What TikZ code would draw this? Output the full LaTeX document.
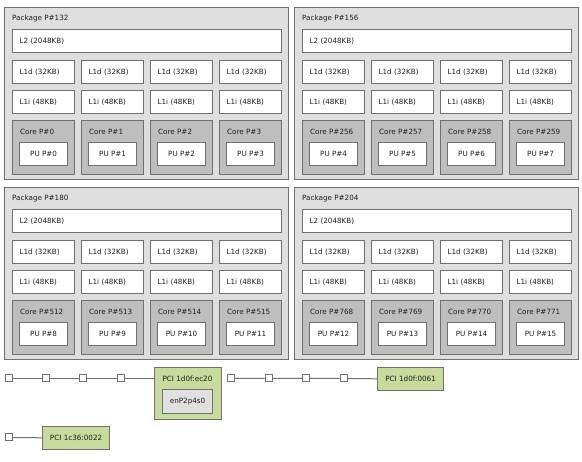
\documentclass[tikz,border=0pt]{standalone}
\usepackage{fontspec}
\setmainfont{DejaVu Sans}
\definecolor{topoedge}{RGB}{112,112,112}
\definecolor{topopkg}{RGB}{222,222,222}
\definecolor{topocore}{RGB}{190,190,190}
\definecolor{topopci}{RGB}{199,219,157}
\definecolor{topoos}{RGB}{224,224,224}
\definecolor{topotext}{RGB}{30,30,30}

\begin{document}
\begin{tikzpicture}[x=1pt, y=-1pt,
    every node/.style={font=\fontsize{7.2}{8}\selectfont, text=topotext},
    box/.style={draw=topoedge, line width=1.2pt, anchor=north west, inner sep=0pt},
    pkgbox/.style={box, fill=topopkg, minimum width=284pt, minimum height=172pt},
    cachebox/.style={box, fill=white, minimum height=23pt, inner xsep=7pt, align=left, text width=#1},
    corebox/.style={box, fill=topocore, minimum width=62pt, minimum height=54pt},
    pubox/.style={box, fill=white, minimum width=48pt, minimum height=23pt},
    pcibox/.style={box, fill=topopci, minimum height=23pt},
    osbox/.style={box, fill=topoos, minimum width=50pt, minimum height=24pt},
    lab/.style={anchor=west, inner sep=0pt},
    bridge/.style={draw=topoedge, line width=1pt, fill=white, minimum size=7pt, inner sep=0pt},
    link/.style={draw=topoedge, line width=1pt}]
        \useasboundingbox (0,0) rectangle (582,462);

        % Packages
        \foreach \px/\py/\pid/\n in {4/7/132/0, 294/7/156/1, 4/187/180/2, 294/187/204/3} {
            \node[pkgbox] (pkg\n) at (\px,\py) {};
            \node[lab] (pkglab\n) at (\px+8,\py+12) {Package P\#\pid};
            \node[cachebox=255pt] (l2\n) at (\px+8,\py+22) {L2 (2048KB)};
            % caches, cores and PUs
            \foreach \i in {0,...,3} {
                \pgfmathtruncatemacro{\core}{256*\n+\i}
                \pgfmathtruncatemacro{\pu}{4*\n+\i}
                \node[cachebox=48pt] (l1d\n\i) at (\px+8+69*\i,\py+53) {L1d (32KB)};
                \node[cachebox=48pt] (l1i\n\i) at (\px+8+69*\i,\py+83) {L1i (48KB)};
                \node[corebox] (core\n\i) at (\px+8+69*\i,\py+113) {};
                \node[lab] (corelab\n\i) at (\px+16+69*\i,\py+125) {Core P\#\core};
                \node[pubox] (pu\n\i) at (\px+15+69*\i,\py+135) {PU P\#\pu};
            }
        }

        % PCI bridges
        \foreach \bx [count=\k from 0] in {8.5,45.5,83,121,231,268.5,306,343.5} {
            \node[bridge] (b\k) at (\bx,378.5) {};
        }
        \node[bridge] (b8) at (8.5,437.5) {};

        % PCI devices
        \node[pcibox, minimum width=67pt, minimum height=52pt] (pci0) at (154,367) {};
        \node[anchor=center, inner sep=0pt] (pcilab0) at (187.5,379) {PCI 1d0f:ec20};
        \node[osbox] (net0) at (162,389) {enP2p4s0};
        \node[pcibox, minimum width=66pt] (pci1) at (377,367) {PCI 1d0f:0061};
        \node[pcibox, minimum width=67pt] (pci2) at (42,426) {PCI 1c36:0022};

        % Links
        \draw[link] (b0) -- (b1) -- (b2) -- (b3) -- (b3 -| pci0.west);
        \draw[link] (b4) -- (b5) -- (b6) -- (b7) -- (pci1);
        \draw[link] (b8) -- (pci2);
\end{tikzpicture}
\end{document}
